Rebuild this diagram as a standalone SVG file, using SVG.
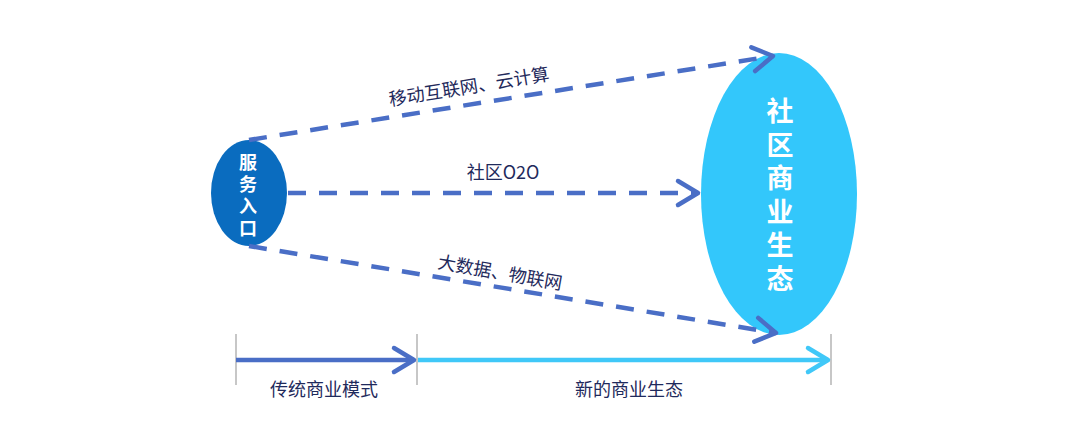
<svg xmlns="http://www.w3.org/2000/svg" width="1080" height="423" viewBox="0 0 1080 423">
<style>
text{font-family:"Noto Sans CJK SC","Noto Sans",sans-serif;}
.lbl{font-size:18px;fill:#1f2a5c;text-anchor:middle;}
.nd{fill:#ffffff;font-weight:bold;text-anchor:middle;writing-mode:vertical-rl;}
.dash{fill:none;stroke:#4a6ec6;stroke-width:4.5;stroke-dasharray:18 13;}
.tick{stroke:#b4b4b4;stroke-width:1.5;}
</style>
<defs>
<marker id="ahB" viewBox="-26 -16 30 32" markerWidth="30" markerHeight="32" refX="0" refY="0" orient="auto" markerUnits="userSpaceOnUse">
<path d="M-20,-12 L0,0 L-20,12" fill="none" stroke="#4a6ec6" stroke-width="4.5" stroke-linecap="round" stroke-linejoin="round" stroke-dasharray="none"/>
</marker>
<marker id="ahC" viewBox="-26 -16 30 32" markerWidth="30" markerHeight="32" refX="0" refY="0" orient="auto" markerUnits="userSpaceOnUse">
<path d="M-20,-12 L0,0 L-20,12" fill="none" stroke="#40c8f8" stroke-width="4.5" stroke-linecap="round" stroke-linejoin="round" stroke-dasharray="none"/>
</marker>
</defs>
<rect width="1080" height="423" fill="#ffffff"/>
<g id="node-eco">
<ellipse cx="779" cy="194" rx="78" ry="141" fill="#33c7fb"/>
<text class="nd" font-size="27" letter-spacing="6.5" x="780" y="198">社区商业生态</text>
</g>
<g id="node-entry">
<ellipse cx="249" cy="193" rx="38" ry="53" fill="#0a6cbf"/>
<text class="nd" font-size="18" letter-spacing="4" x="248" y="197">服务入口</text>
</g>
<g id="connectors">
<path class="dash" d="M249,140 L773,56" marker-end="url(#ahB)"/>
<path class="dash" d="M288,193 L698,193" marker-end="url(#ahB)"/>
<path class="dash" d="M249,246 L776,333" marker-end="url(#ahB)"/>
</g>
<g id="labels">
<text class="lbl" transform="translate(470,93) rotate(-9.2)">移动互联网、云计算</text>
<text class="lbl" x="503" y="179">社区O2O</text>
<text class="lbl" transform="translate(499,279) rotate(10)">大数据、物联网</text>
</g>
<g id="axis">
<line class="tick" x1="236" y1="334" x2="236" y2="385"/>
<line class="tick" x1="417" y1="334" x2="417" y2="385"/>
<line class="tick" x1="831" y1="334" x2="831" y2="385"/>
<path d="M236,360 L414,360" stroke="#4a6ec6" stroke-width="4.5" fill="none" marker-end="url(#ahB)"/>
<path d="M418,360 L828,360" stroke="#40c8f8" stroke-width="4.5" fill="none" marker-end="url(#ahC)"/>
<text class="lbl" x="324" y="396">传统商业模式</text>
<text class="lbl" x="629" y="396">新的商业生态</text>
</g>
</svg>
